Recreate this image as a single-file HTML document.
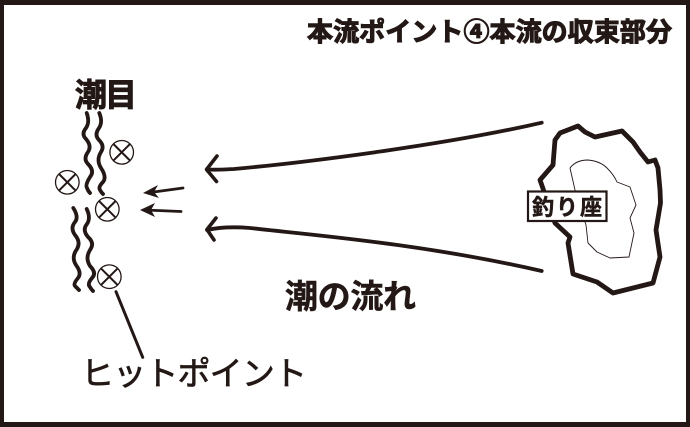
<!DOCTYPE html>
<html lang="ja">
<head>
<meta charset="utf-8">
<style>
html,body{margin:0;padding:0;background:#fff;width:690px;height:427px;overflow:hidden}
svg{display:block}
text{font-family:"Liberation Sans","Noto Sans CJK JP",sans-serif;fill:#231815}
.b{font-weight:700;stroke:#231815}
</style>
</head>
<body>
<svg width="690" height="427" viewBox="0 0 690 427" xmlns="http://www.w3.org/2000/svg">
<rect width="690" height="427" fill="#231815"/>
<rect x="4" y="5" width="682" height="417" fill="#fff"/>

<text class="b" x="307" y="41" font-size="26" stroke-width="1.1" textLength="365" lengthAdjust="spacing">本流ポイント④本流の収束部分</text>
<text class="b" x="75" y="106" font-size="32" stroke-width="1" textLength="62" lengthAdjust="spacing">潮目</text>
<text class="b" x="285" y="308" font-size="33" stroke-width=".5" textLength="131" lengthAdjust="spacing">潮の流れ</text>
<text x="81" y="385" font-size="33" stroke="#231815" stroke-width=".7" textLength="226" lengthAdjust="spacing">ヒットポイント</text>

<g fill="none" stroke="#231815" stroke-width="3.8" stroke-linecap="round" stroke-linejoin="round">
<path d="M86.7 113Q90 122 86 128Q81 134 86 139Q92 146 88 152Q83 159 88 164Q95 171 90 177Q85 185 87 188Q88 191 90 193"/>
<path d="M99.3 113Q103 122 99 128Q94 135 99 140Q105 146 101 152Q96 160 101 168Q107 177 103 182Q98 187 100 190Q101 192 103 194"/>
<path d="M73.3 208Q79 217 75 222Q70 228 75 235Q81 242 77 249Q71 257 76 265Q82 273 78 278Q73 284 75 286Q77 288 79 290"/>
<path d="M86.7 209Q91 218 87 224Q82 230 88 237Q95 243 90 250Q85 258 90 266Q97 273 92 278Q87 284 90 287Q91 289 93 291"/>
<path stroke-width="3.8" d="M541.7 122.7C440 146 300 163 234 169Q218 170 207 169.5"/>
<path stroke-width="3.6" d="M217 156L206.5 169.5L216.5 181.5"/>
<path stroke-width="3.8" d="M541.7 271C420 243 300 234 250 228Q225 226 207 230"/>
<path stroke-width="3.6" d="M216 218L207 229.5L214 240"/>
<path stroke-width="3" d="M116 291.7L142.7 357.3"/>
<path stroke-width="4.8" d="M555 140L560 133L578 126L585 132L595 137L622 131L633 142L640 152L648 162L655 160L658 168L660 190L660.5 203L656 230L660 257L653 283L613 293L597 282L573 274L568 243L570 237L555 223L540 180L553 165L555 140Z"/>
<path stroke-width=".9" d="M570 168Q576 160 588 160Q600 161 607 168Q614 175 617 182L630 187L636 205L630 218L634 233L629 257L610 258L597 252L588 243L586 225L575 190Z"/>
<path stroke-width="2.8" d="M183 188L150 192.5"/>
<path stroke-width="2.8" d="M181 211.5L145 210"/>
</g>
<path d="M143 193L158 185L154 192L159 198Z" fill="#231815"/>
<path d="M140 210L155 203L151 210L155 217Z" fill="#231815"/>

<g fill="#fff" stroke="#231815" stroke-width="1.3">
<circle cx="121.7" cy="152.3" r="11.8"/>
<circle cx="67.3" cy="182.3" r="11.8"/>
<circle cx="107.3" cy="209.3" r="11.8"/>
<circle cx="109.3" cy="276.7" r="11.8"/>
</g>
<g stroke="#231815" stroke-width="2">
<path d="M113.4 144L130 160.6M130 144L113.4 160.6"/>
<path d="M59 174L75.6 190.6M75.6 174L59 190.6"/>
<path d="M99 201L115.6 217.6M115.6 201L99 217.6"/>
<path d="M101 268.4L117.6 285M117.6 268.4L101 285"/>
</g>

<rect x="528" y="191.5" width="78.5" height="29.5" fill="#fff" stroke="#231815" stroke-width="2.2"/>
<text class="b" x="532" y="215" font-size="22" stroke-width=".5" textLength="70" lengthAdjust="spacing">釣り座</text>
</svg>
</body>
</html>
